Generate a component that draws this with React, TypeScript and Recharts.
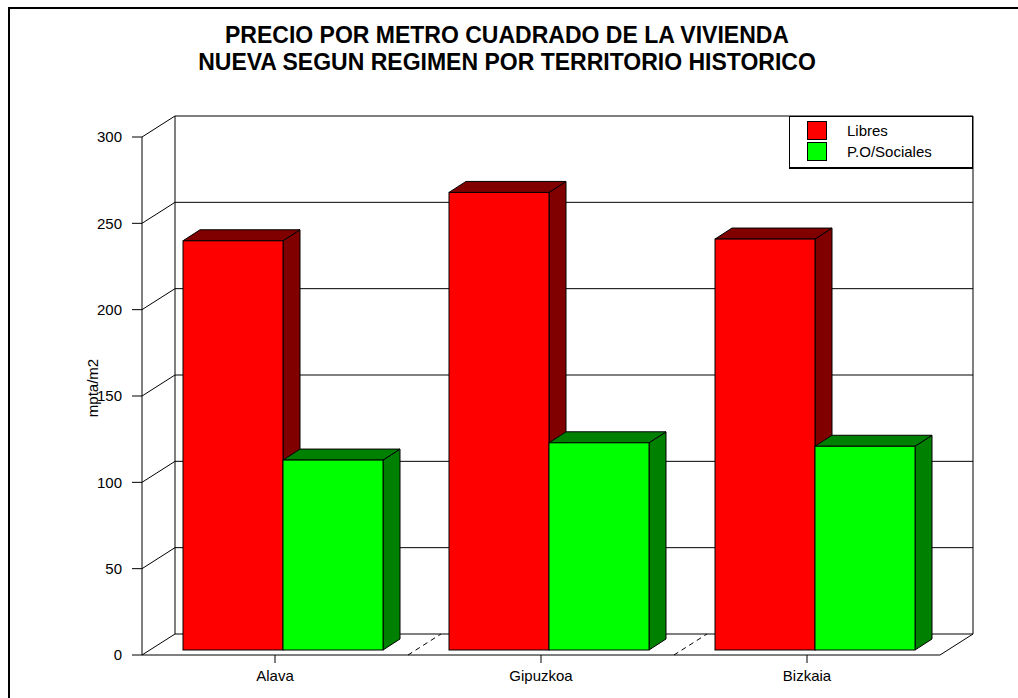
import React from 'react';
import { BarChart, Bar, XAxis, YAxis, CartesianGrid, Legend } from 'recharts';

// ---- data ----
const categories = ['Alava', 'Gipuzkoa', 'Bizkaia'];
const libresValues = [237, 265, 238];
const socialesValues = [110, 120, 118];
const yTicks = [0, 50, 100, 150, 200, 250, 300];
const seriesNames = ['Libres', 'P.O/Sociales'];
const titleLines = [
  'PRECIO POR METRO CUADRADO DE LA VIVIENDA',
  'NUEVA SEGUN REGIMEN POR TERRITORIO HISTORICO',
];
const yAxisTitle = 'mpta/m2';

const data = categories.map((c, i) => ({
  name: c,
  libres: libresValues[i],
  sociales: socialesValues[i],
}));

// ---- layout / style ----
const W = 1018;
const H = 698;
const PLOT_LEFT = 150;
const PLOT_RIGHT = 948;
const PLOT_TOP = 132;
const XAXIS_H = 48;
const PLOT_BOTTOM = H - XAXIS_H;
const FRONT_DX = -8;
const FRONT_DY = 5;
const BACK_DX = 25;
const BACK_DY = -16;
const BAR_DX = 17;
const BAR_DY = -11;
const FONT = '"Liberation Sans", Arial, Helvetica, sans-serif';
const DARK: Record<string, string> = { '#FF0000': '#800000', '#00FF00': '#008000' };

const renderGridLine = (p: any) => {
  const { x1, x2, y1 } = p;
  const fy = y1 + FRONT_DY;
  const by = y1 + BACK_DY;
  const fxL = x1 + FRONT_DX;
  const fxR = x2 + FRONT_DX;
  const bxL = x1 + BACK_DX;
  const bxR = x2 + BACK_DX;
  const isFloor = Math.abs(y1 - PLOT_BOTTOM) < 0.5;
  const topBack = PLOT_TOP + BACK_DY;
  const topFront = PLOT_TOP + FRONT_DY;
  return (
    <g key={p.key ?? `g-${y1}`} stroke="#000" strokeWidth={1} fill="none">
      <line x1={fxL} y1={fy} x2={bxL} y2={by} />
      <line x1={bxL} y1={by} x2={bxR} y2={by} />
      {isFloor && (
        <>
          <line x1={fxL} y1={fy} x2={fxR} y2={fy} />
          <line x1={fxR} y1={fy} x2={bxR} y2={by} />
          <line x1={bxL} y1={by} x2={bxL} y2={topBack} />
          <line x1={bxR} y1={by} x2={bxR} y2={topBack} />
          <line x1={fxL} y1={fy} x2={fxL} y2={topFront} />
        </>
      )}
    </g>
  );
};

const Bar3D = (p: any) => {
  const { x, y, width, height, fill } = p;
  if (width == null || height == null) return null;
  const dark = DARK[fill] || '#444';
  const top = `${x},${y} ${x + BAR_DX},${y + BAR_DY} ${x + width + BAR_DX},${y + BAR_DY} ${x + width},${y}`;
  const side = `${x + width},${y} ${x + width + BAR_DX},${y + BAR_DY} ${x + width + BAR_DX},${y + height + BAR_DY} ${x + width},${y + height}`;
  return (
    <g stroke="#000" strokeWidth={1} strokeLinejoin="miter">
      <polygon points={side} fill={dark} />
      <polygon points={top} fill={dark} />
      <rect x={x} y={y} width={width} height={height} fill={fill} />
    </g>
  );
};

const XTick = (p: any) => {
  const { x, payload, index } = p;
  const fx = x + FRONT_DX;
  const fy = PLOT_BOTTOM + FRONT_DY;
  const band = (PLOT_RIGHT - PLOT_LEFT) / categories.length;
  const bx = x + band / 2;
  return (
    <g>
      <line x1={fx} y1={fy} x2={fx} y2={fy + 8} stroke="#000" />
      <text x={fx} y={fy + 26} textAnchor="middle" fontSize={15} fontFamily={FONT} fill="#000">
        {payload.value}
      </text>
      {index < categories.length - 1 && (
        <line
          x1={bx + FRONT_DX}
          y1={fy}
          x2={bx + BACK_DX}
          y2={PLOT_BOTTOM + BACK_DY}
          stroke="#000"
          strokeDasharray="5 4"
        />
      )}
    </g>
  );
};

const YTick = (p: any) => {
  const { y, payload } = p;
  const fy = y + FRONT_DY;
  const fx = PLOT_LEFT + FRONT_DX;
  return (
    <g>
      <line x1={fx - 10} y1={fy} x2={fx} y2={fy} stroke="#000" />
      <text x={fx - 20} y={fy} dy="0.36em" textAnchor="end" fontSize={15} fontFamily={FONT} fill="#000">
        {payload.value}
      </text>
    </g>
  );
};

const YLabel = () => (
  <text
    transform={`translate(93, 388) rotate(-90)`}
    textAnchor="middle"
    dy="0.36em"
    fontSize={15}
    fontFamily={FONT}
    fill="#000"
  >
    {yAxisTitle}
  </text>
);

const LegendBox = (props: any) => {
  const payload = props.payload || [];
  return (
    <div
      style={{
        position: 'relative',
        width: 184,
        height: 53,
        boxSizing: 'border-box',
        border: '1px solid #000',
        borderBottomWidth: 2,
        background: '#fff',
        fontFamily: FONT,
        fontSize: 15,
      }}
    >
      {payload.map((item: any, i: number) => (
        <div key={i} style={{ position: 'absolute', left: 17, top: 4 + i * 21, height: 19, display: 'flex', alignItems: 'center' }}>
          <div style={{ width: 20, height: 19, boxSizing: 'border-box', border: '1px solid #000', background: item.color }} />
          <span style={{ marginLeft: 20, lineHeight: '19px', color: '#000' }}>{item.value}</span>
        </div>
      ))}
    </div>
  );
};

export default function App() {
  return (
    <div
      style={{
        position: 'absolute',
        left: 0,
        top: 0,
        width: W,
        height: H,
        overflow: 'hidden',
        background: '#fff',
        fontFamily: FONT,
      }}
    >
      <div
        style={{
          position: 'absolute',
          left: 8,
          top: 7,
          width: 1200,
          height: 900,
          borderTop: '2px solid #000',
          borderLeft: '2px solid #000',
        }}
      />
      <svg style={{ position: 'absolute', left: 0, top: 0 }} width={W} height={H}>
        {titleLines.map((t, i) => (
          <text
            key={i}
            x={507}
            y={43 + i * 27}
            textAnchor="middle"
            fontSize={23}
            fontWeight="bold"
            fontFamily={FONT}
            fill="#000"
          >
            {t}
          </text>
        ))}
      </svg>
      <div style={{ position: 'absolute', left: 0, top: 0 }}>
        <BarChart
          width={W}
          height={H}
          data={data}
          margin={{ top: PLOT_TOP, right: W - PLOT_RIGHT, bottom: 0, left: 0 }}
          barSize={100}
          barGap={0}
        >
          <CartesianGrid vertical={false} horizontal={renderGridLine} stroke="#000" />
          <XAxis
            dataKey="name"
            height={XAXIS_H}
            axisLine={false}
            tickLine={false}
            tick={<XTick />}
            interval={0}
          />
          <YAxis
            type="number"
            domain={[0, 300]}
            ticks={yTicks}
            interval={0}
            width={PLOT_LEFT}
            axisLine={false}
            tickLine={false}
            tick={<YTick />}
            label={{ content: () => <YLabel /> }}
          />
          <Legend
            layout="vertical"
            verticalAlign="middle"
            align="center"
            content={<LegendBox />}
            wrapperStyle={{ left: 789, top: 116, width: 184, height: 53 }}
          />
          <Bar dataKey="libres" name={seriesNames[0]} fill="#FF0000" shape={Bar3D} isAnimationActive={false} />
          <Bar dataKey="sociales" name={seriesNames[1]} fill="#00FF00" shape={Bar3D} isAnimationActive={false} />
        </BarChart>
      </div>
    </div>
  );
}
